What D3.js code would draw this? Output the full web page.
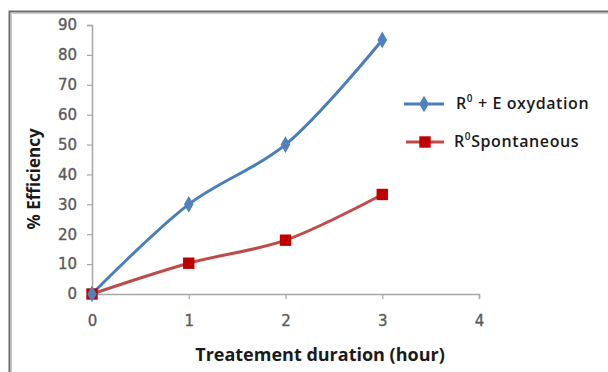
<!DOCTYPE html>
<html><head><meta charset="utf-8">
<script src="https://cdn.jsdelivr.net/npm/d3@7"></script>
<style>body{margin:0;background:#fff}svg{display:block}</style>
</head><body>
<script>
const hours = [0, 1, 2, 3];
const oxydation = [0, 30, 50, 85];
const spontaneous = [0, 10.3, 18, 33.3];
const xTicks = [0, 1, 2, 3, 4];
const yTicks = [0, 10, 20, 30, 40, 50, 60, 70, 80, 90];
const seriesNames = ["+ E oxydation", "Spontaneous"];

const W = 608, H = 372;
const svg = d3.select("body").append("svg").attr("width", W).attr("height", H);
const font = "'Open Sans', sans-serif";
const tickFont = "'DejaVu Sans', sans-serif";

// frame
svg.append("path").attr("d", `M9.5,${H} V11.5 H${W}`).attr("fill","none").attr("stroke","#6d6d6d").attr("stroke-width",2);
svg.append("path").attr("d", `M11.5,${H} V13.5 H${W}`).attr("fill","none").attr("stroke","#c8c8c8").attr("stroke-width",1);

const x = d3.scaleLinear().domain([0, 4]).range([92, 479]);
const y = d3.scaleLinear().domain([0, 90]).range([294, 25]);

const axCol = "#a6a6a6";
const gx = svg.append("g").attr("transform", `translate(0,${y(0)})`)
  .call(d3.axisBottom(x).tickValues(xTicks).tickFormat(d3.format("d")).tickSize(5).tickPadding(16));
const gy = svg.append("g").attr("transform", `translate(${x(0)},0)`)
  .call(d3.axisLeft(y).tickValues(yTicks).tickFormat(d3.format("d")).tickSize(5).tickPadding(10));
[gx, gy].forEach(g => {
  g.select(".domain").attr("stroke", axCol).attr("stroke-width", 1.5);
  g.selectAll(".tick line").attr("stroke", axCol).attr("stroke-width", 1.2);
  g.selectAll(".tick text").attr("fill", "#5a5a5a").attr("font-family", tickFont).attr("font-size", 15).attr("font-weight","normal")
    .attr("stroke", "#5a5a5a").attr("stroke-width", 0.35);
});

svg.append("text").attr("x", 320).attr("y", 361).attr("text-anchor","middle")
  .attr("font-family", font).attr("font-weight","bold").attr("font-size",18).attr("fill","#1a1a1a")
  .text("Treatement duration (hour)");
svg.append("text").attr("transform","translate(40,179) rotate(-90)").attr("text-anchor","middle")
  .attr("font-family", font).attr("font-weight","bold").attr("font-size",17).attr("fill","#1a1a1a")
  .text("% Efficiency");

const line = d3.line().x((d,i)=>x(hours[i])).y(d=>y(d)).curve(d3.curveCatmullRom.alpha(0.5));
const blue = "#4a7ebb", blueM = "#4f81bd", red = "#be4b48", redM = "#c00000";

svg.append("path").datum(spontaneous).attr("d", line).attr("fill","none").attr("stroke",red).attr("stroke-width",3);
svg.append("path").datum(oxydation).attr("d", line).attr("fill","none").attr("stroke",blue).attr("stroke-width",3);

const sq = d3.symbol().type(d3.symbolSquare).size(130);
const dm = d3.symbol().type(d3.symbolDiamond).size(80);
svg.selectAll(".sq").data(spontaneous).join("path").attr("d", sq)
  .attr("transform",(d,i)=>`translate(${x(hours[i])},${y(d)})`).attr("fill",redM);
svg.selectAll(".dm").data(oxydation).join("path").attr("d", dm)
  .attr("transform",(d,i)=>`translate(${x(hours[i])},${y(d)})`).attr("fill",blueM);

// legend
const leg = [
  {y: 104, col: blue, mcol: blueM, sym: dm, x0: 404, x1: 444, tx: 456},
  {y: 142, col: red, mcol: redM, sym: sq, x0: 406, x1: 444, tx: 454}
];
leg.forEach((l,i) => {
  svg.append("line").attr("x1",l.x0).attr("x2",l.x1).attr("y1",l.y).attr("y2",l.y).attr("stroke",l.col).attr("stroke-width",3);
  svg.append("path").attr("d", l.sym).attr("transform",`translate(${(l.x0+l.x1)/2},${l.y})`).attr("fill",l.mcol);
  const t = svg.append("text").attr("x",l.tx).attr("y",l.y+5).attr("font-family",font).attr("font-size",16).attr("letter-spacing",0.6).attr("font-weight","600").attr("fill","#1a1a1a");
  t.append("tspan").text("R");
  t.append("tspan").attr("dy",-7).attr("font-size",10).text("0");
  t.append("tspan").attr("dy",7).text(i===0 ? " " + seriesNames[0] : seriesNames[1]);
});
</script>
</body></html>
